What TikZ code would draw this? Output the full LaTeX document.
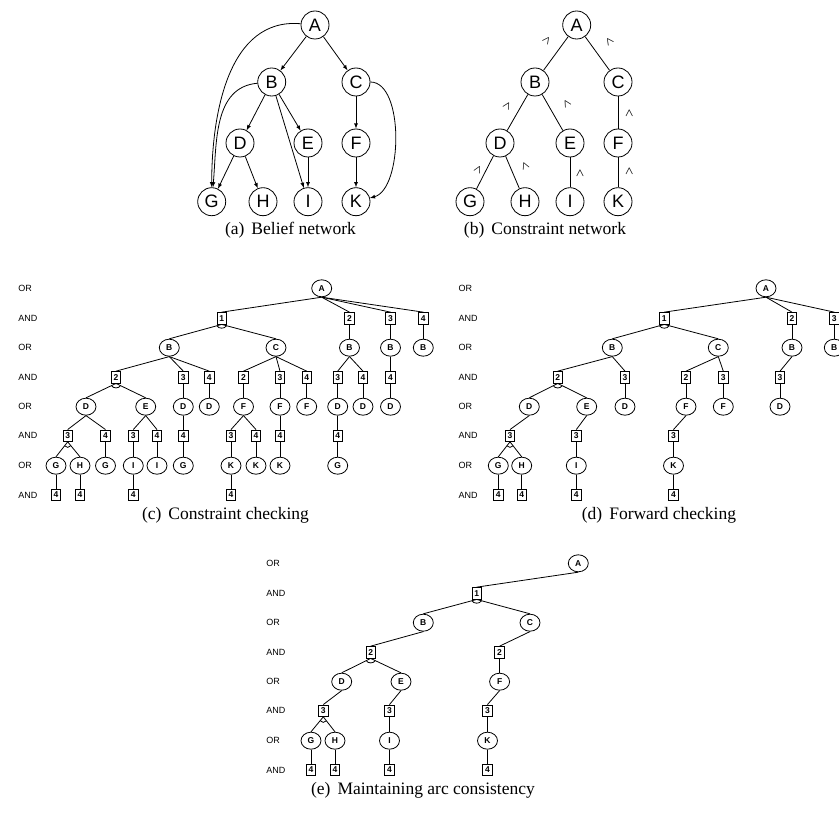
\documentclass[tikz,border=0pt]{standalone}
\usepackage{fontspec}
\setmainfont{Liberation Serif}
\setsansfont{Liberation Sans}
\usetikzlibrary{arrows,shapes}
\usetikzlibrary{calc}
\tikzset{
	>=latex,
	bnode/.style={draw, circle, minimum size=28pt, inner sep=0pt,
		font=\sffamily\fontsize{18}{18}\selectfont},
	ornode/.style={draw, ellipse, minimum width=20pt, minimum height=17pt, inner sep=0pt,
		font=\sffamily\bfseries\fontsize{8.5}{8.5}\selectfont},
	andnode/.style={draw, rectangle, minimum width=9.5pt, minimum height=11.5pt, inner sep=0pt,
		font=\sffamily\bfseries\fontsize{8.5}{8.5}\selectfont},
	levellabel/.style={anchor=west, inner sep=0pt, font=\sffamily\fontsize{9}{9}\selectfont},
	caret/.style={inner sep=0pt, font=\fontsize{11}{11}\selectfont\boldmath},
	subcaption/.style={inner sep=0pt, font=\fontsize{17.5}{17.5}\selectfont},
}
% small arc below an AND node, joining its two outgoing edges
\newcommand{\andarc}[3]{\draw ($(#1.south)!5pt!(#2.north)$) to[bend right=60] ($(#1.south)!5pt!(#3.north)$);}

\begin{document}
\begin{tikzpicture}[x=1pt, y=-1pt, line width=0.8pt]
\useasboundingbox (0,0) rectangle (839,813);

% (a) belief network
\node[bnode] (aA) at (315,25) {A};
\node[bnode] (aB) at (271.7,82) {B};
\node[bnode] (aC) at (356,82) {C};
\node[bnode] (aD) at (240,143) {D};
\node[bnode] (aE) at (308,143) {E};
\node[bnode] (aF) at (356,143) {F};
\node[bnode] (aG) at (211.7,201.7) {G};
\node[bnode] (aH) at (263,201.7) {H};
\node[bnode] (aI) at (308,201.7) {I};
\node[bnode] (aK) at (356,201.7) {K};
\draw[->] (aA) -- (aB);
\draw[->] (aA) -- (aC);
\draw[->] (aA) to[out=175,in=90] (aG);
\draw[->] (aB) to[out=185,in=85] (aG);
\draw[->] (aB) -- (aD);
\draw[->] (aB) -- (aE);
\draw[->] (aB) -- (aI);
\draw[->] (aC) -- (aF);
\draw[->] (aC) to[out=0,in=15,looseness=0.75] (aK);
\draw[->] (aD) -- (aG);
\draw[->] (aD) -- (aH);
\draw[->] (aE) -- (aI);
\draw[->] (aF) -- (aK);
\node[subcaption] (capa) at (290.5,230) {(a)\hspace{.4em}Belief network};

% (b) constraint network
\node[bnode] (bA) at (576.7,25) {A};
\node[bnode] (bB) at (535,82) {B};
\node[bnode] (bC) at (618,82) {C};
\node[bnode] (bD) at (500,143) {D};
\node[bnode] (bE) at (570,143) {E};
\node[bnode] (bF) at (618,143) {F};
\node[bnode] (bG) at (470,201.7) {G};
\node[bnode] (bH) at (525,201.7) {H};
\node[bnode] (bI) at (570,201.7) {I};
\node[bnode] (bK) at (618,201.7) {K};
\draw (bA) -- (bB);
\draw (bA) -- (bC);
\draw (bB) -- (bD);
\draw (bB) -- (bE);
\draw (bC) -- (bF);
\draw (bD) -- (bG);
\draw (bD) -- (bH);
\draw (bE) -- (bI);
\draw (bF) -- (bK);
\node[caret, rotate=-36] (bAB) at (546.7,40.7) {$\wedge$};
\node[caret, rotate=35] (bAC) at (609.3,41.7) {$\wedge$};
\node[caret, rotate=-30] (bBD) at (507.3,106) {$\wedge$};
\node[caret, rotate=30] (bBE) at (566.7,104) {$\wedge$};
\node[caret] (bCF) at (629.3,113.3) {$\wedge$};
\node[caret, rotate=-27] (bDG) at (478.3,170) {$\wedge$};
\node[caret, rotate=23] (bDH) at (525,165.7) {$\wedge$};
\node[caret] (bEI) at (580,173.3) {$\wedge$};
\node[caret] (bFK) at (629.3,171.7) {$\wedge$};
\node[subcaption] (capb) at (545,230) {(b)\hspace{.4em}Constraint network};

% (c) constraint checking
\node[levellabel] (cl0) at (18,288.3) {OR};
\node[levellabel] (cl1) at (18,318.3) {AND};
\node[levellabel] (cl2) at (18,347.7) {OR};
\node[levellabel] (cl3) at (18,377.3) {AND};
\node[levellabel] (cl4) at (18,406.7) {OR};
\node[levellabel] (cl5) at (18,435.7) {AND};
\node[levellabel] (cl6) at (18,465.7) {OR};
\node[levellabel] (cl7) at (18,495) {AND};

\node[ornode] (cA) at (321.7,288.3) {A};
\node[andnode] (c1) at (221.7,318.3) {1};
\node[andnode] (c2) at (349.5,318.3) {2};
\node[andnode] (c3) at (390.5,318.3) {3};
\node[andnode] (c4) at (423.3,318.3) {4};
\node[ornode] (c1B) at (169.3,347.7) {B};
\node[ornode] (c1C) at (276,347.7) {C};
\node[ornode] (c2B) at (349.5,347.7) {B};
\node[ornode] (c3B) at (390.5,347.7) {B};
\node[ornode] (c4B) at (423.3,347.7) {B};
\node[andnode] (c1B2) at (116,377.3) {2};
\node[andnode] (c1B3) at (183.3,377.3) {3};
\node[andnode] (c1B4) at (209.3,377.3) {4};
\node[andnode] (c1C2) at (243.5,377.3) {2};
\node[andnode] (c1C3) at (280,377.3) {3};
\node[andnode] (c1C4) at (306.7,377.3) {4};
\node[andnode] (c2B3) at (337.7,377.3) {3};
\node[andnode] (c2B4) at (363,377.3) {4};
\node[andnode] (c3B4) at (390.5,377.3) {4};
\node[ornode] (c1B2D) at (86,406.7) {D};
\node[ornode] (c1B2E) at (145.7,406.7) {E};
\node[ornode] (c1B3D) at (183.3,406.7) {D};
\node[ornode] (c1B4D) at (209.3,406.7) {D};
\node[ornode] (c1C2F) at (243.5,406.7) {F};
\node[ornode] (c1C3F) at (280,406.7) {F};
\node[ornode] (c1C4F) at (306.7,406.7) {F};
\node[ornode] (c2B3D) at (337.7,406.7) {D};
\node[ornode] (c2B4D) at (363,406.7) {D};
\node[ornode] (c3B4D) at (390.5,406.7) {D};
\node[andnode] (c1B2D3) at (67.7,435.7) {3};
\node[andnode] (c1B2D4) at (105.5,435.7) {4};
\node[andnode] (c1B2E3) at (133.3,435.7) {3};
\node[andnode] (c1B2E4) at (157,435.7) {4};
\node[andnode] (c1B3D4) at (183.3,435.7) {4};
\node[andnode] (c1C2F3) at (231,435.7) {3};
\node[andnode] (c1C2F4) at (256,435.7) {4};
\node[andnode] (c1C3F4) at (280,435.7) {4};
\node[andnode] (c2B3D4) at (337.7,435.7) {4};
\node[ornode] (c1B2D3G) at (56,465.7) {G};
\node[ornode] (c1B2D3H) at (80,465.7) {H};
\node[ornode] (c1B2D4G) at (105.5,465.7) {G};
\node[ornode] (c1B2E3I) at (133.3,465.7) {I};
\node[ornode] (c1B2E4I) at (157,465.7) {I};
\node[ornode] (c1B3D4G) at (183.3,465.7) {G};
\node[ornode] (c1C2F3K) at (231,465.7) {K};
\node[ornode] (c1C2F4K) at (256,465.7) {K};
\node[ornode] (c1C3F4K) at (280,465.7) {K};
\node[ornode] (c2B3D4G) at (337.7,465.7) {G};
\node[andnode] (c1B2D3G4) at (56,495) {4};
\node[andnode] (c1B2D3H4) at (80,495) {4};
\node[andnode] (c1B2E3I4) at (133.3,495) {4};
\node[andnode] (c1C2F3K4) at (231,495) {4};

\draw (cA.south) edge (c1.north) edge (c2.north) edge (c3.north) edge (c4.north);
\draw (c1.south) edge (c1B.north) edge (c1C.north);
\draw (c2.south) edge (c2B.north);
\draw (c3.south) edge (c3B.north);
\draw (c4.south) edge (c4B.north);
\draw (c1B.south) edge (c1B2.north) edge (c1B3.north) edge (c1B4.north);
\draw (c1C.south) edge (c1C2.north) edge (c1C3.north) edge (c1C4.north);
\draw (c2B.south) edge (c2B3.north) edge (c2B4.north);
\draw (c3B.south) edge (c3B4.north);
\draw (c1B2.south) edge (c1B2D.north) edge (c1B2E.north);
\draw (c1B3.south) edge (c1B3D.north);
\draw (c1B4.south) edge (c1B4D.north);
\draw (c1C2.south) edge (c1C2F.north);
\draw (c1C3.south) edge (c1C3F.north);
\draw (c1C4.south) edge (c1C4F.north);
\draw (c2B3.south) edge (c2B3D.north);
\draw (c2B4.south) edge (c2B4D.north);
\draw (c3B4.south) edge (c3B4D.north);
\draw (c1B2D.south) edge (c1B2D3.north) edge (c1B2D4.north);
\draw (c1B2E.south) edge (c1B2E3.north) edge (c1B2E4.north);
\draw (c1B3D.south) edge (c1B3D4.north);
\draw (c1C2F.south) edge (c1C2F3.north) edge (c1C2F4.north);
\draw (c1C3F.south) edge (c1C3F4.north);
\draw (c2B3D.south) edge (c2B3D4.north);
\draw (c1B2D3.south) edge (c1B2D3G.north) edge (c1B2D3H.north);
\draw (c1B2D4.south) edge (c1B2D4G.north);
\draw (c1B2E3.south) edge (c1B2E3I.north);
\draw (c1B2E4.south) edge (c1B2E4I.north);
\draw (c1B3D4.south) edge (c1B3D4G.north);
\draw (c1C2F3.south) edge (c1C2F3K.north);
\draw (c1C2F4.south) edge (c1C2F4K.north);
\draw (c1C3F4.south) edge (c1C3F4K.north);
\draw (c2B3D4.south) edge (c2B3D4G.north);
\draw (c1B2D3G.south) edge (c1B2D3G4.north);
\draw (c1B2D3H.south) edge (c1B2D3H4.north);
\draw (c1B2E3I.south) edge (c1B2E3I4.north);
\draw (c1C2F3K.south) edge (c1C2F3K4.north);
\andarc{c1}{c1B}{c1C}
\andarc{c1B2}{c1B2D}{c1B2E}
\andarc{c1B2D3}{c1B2D3G}{c1B2D3H}
\node[subcaption] (capc) at (225.5,515) {(c)\hspace{.4em}Constraint checking};

% (d) forward checking
\node[levellabel] (dl0) at (458.3,288.3) {OR};
\node[levellabel] (dl1) at (458.3,318.3) {AND};
\node[levellabel] (dl2) at (458.3,347.7) {OR};
\node[levellabel] (dl3) at (458.3,377.3) {AND};
\node[levellabel] (dl4) at (458.3,406.7) {OR};
\node[levellabel] (dl5) at (458.3,435.7) {AND};
\node[levellabel] (dl6) at (458.3,465.7) {OR};
\node[levellabel] (dl7) at (458.3,495) {AND};

\node[ornode] (dA) at (766,288.3) {A};
\node[andnode] (d1) at (664.3,318.3) {1};
\node[andnode] (d2) at (792,318.3) {2};
\node[andnode] (d3) at (834.3,318.3) {3};
\node[ornode] (d1B) at (612.3,347.7) {B};
\node[ornode] (d1C) at (718.3,347.7) {C};
\node[ornode] (d2B) at (792,347.7) {B};
\node[ornode] (d3B) at (834.3,347.7) {B};
\node[andnode] (d1B2) at (557.7,377.3) {2};
\node[andnode] (d1B3) at (625,377.3) {3};
\node[andnode] (d1C2) at (686,377.3) {2};
\node[andnode] (d1C3) at (723.3,377.3) {3};
\node[andnode] (d2B3) at (780,377.3) {3};
\node[ornode] (d1B2D) at (529.3,406.7) {D};
\node[ornode] (d1B2E) at (586.7,406.7) {E};
\node[ornode] (d1B3D) at (625,406.7) {D};
\node[ornode] (d1C2F) at (686,406.7) {F};
\node[ornode] (d1C3F) at (723.3,406.7) {F};
\node[ornode] (d2B3D) at (780,406.7) {D};
\node[andnode] (d1B2D3) at (510,435.7) {3};
\node[andnode] (d1B2E3) at (576.3,435.7) {3};
\node[andnode] (d1C2F3) at (673.5,435.7) {3};
\node[ornode] (d1B2D3G) at (498.3,465.7) {G};
\node[ornode] (d1B2D3H) at (521.7,465.7) {H};
\node[ornode] (d1B2E3I) at (576.3,465.7) {I};
\node[ornode] (d1C2F3K) at (673.5,465.7) {K};
\node[andnode] (d1B2D3G4) at (498.3,495) {4};
\node[andnode] (d1B2D3H4) at (521.7,495) {4};
\node[andnode] (d1B2E3I4) at (576.3,495) {4};
\node[andnode] (d1C2F3K4) at (673.5,495) {4};

\draw (dA.south) edge (d1.north) edge (d2.north) edge (d3.north);
\draw (d1.south) edge (d1B.north) edge (d1C.north);
\draw (d2.south) edge (d2B.north);
\draw (d3.south) edge (d3B.north);
\draw (d1B.south) edge (d1B2.north) edge (d1B3.north);
\draw (d1C.south) edge (d1C2.north) edge (d1C3.north);
\draw (d2B.south) edge (d2B3.north);
\draw (d1B2.south) edge (d1B2D.north) edge (d1B2E.north);
\draw (d1B3.south) edge (d1B3D.north);
\draw (d1C2.south) edge (d1C2F.north);
\draw (d1C3.south) edge (d1C3F.north);
\draw (d2B3.south) edge (d2B3D.north);
\draw (d1B2D.south) edge (d1B2D3.north);
\draw (d1B2E.south) edge (d1B2E3.north);
\draw (d1C2F.south) edge (d1C2F3.north);
\draw (d1B2D3.south) edge (d1B2D3G.north) edge (d1B2D3H.north);
\draw (d1B2E3.south) edge (d1B2E3I.north);
\draw (d1C2F3.south) edge (d1C2F3K.north);
\draw (d1B2D3G.south) edge (d1B2D3G4.north);
\draw (d1B2D3H.south) edge (d1B2D3H4.north);
\draw (d1B2E3I.south) edge (d1B2E3I4.north);
\draw (d1C2F3K.south) edge (d1C2F3K4.north);
\andarc{d1}{d1B}{d1C}
\andarc{d1B2}{d1B2D}{d1B2E}
\andarc{d1B2D3}{d1B2D3G}{d1B2D3H}
\node[subcaption] (capd) at (659,515) {(d)\hspace{.4em}Forward checking};

% (e) maintaining arc consistency
\node[levellabel] (el0) at (266,563.3) {OR};
\node[levellabel] (el1) at (266,593.3) {AND};
\node[levellabel] (el2) at (266,622.7) {OR};
\node[levellabel] (el3) at (266,652.3) {AND};
\node[levellabel] (el4) at (266,681.7) {OR};
\node[levellabel] (el5) at (266,710.7) {AND};
\node[levellabel] (el6) at (266,740.7) {OR};
\node[levellabel] (el7) at (266,770) {AND};

\node[ornode] (eA) at (578.3,563.3) {A};
\node[andnode] (e1) at (476.7,593.3) {1};
\node[ornode] (e1B) at (423.3,622.7) {B};
\node[ornode] (e1C) at (530,622.7) {C};
\node[andnode] (e1B2) at (370.7,652.3) {2};
\node[andnode] (e1C2) at (499.6,652.3) {2};
\node[ornode] (e1B2D) at (341.7,681.7) {D};
\node[ornode] (e1B2E) at (401,681.7) {E};
\node[ornode] (e1C2F) at (499.6,681.7) {F};
\node[andnode] (e1B2D3) at (323.3,710.7) {3};
\node[andnode] (e1B2E3) at (389.5,710.7) {3};
\node[andnode] (e1C2F3) at (487.5,710.7) {3};
\node[ornode] (e1B2D3G) at (311,740.7) {G};
\node[ornode] (e1B2D3H) at (335,740.7) {H};
\node[ornode] (e1B2E3I) at (389.5,740.7) {I};
\node[ornode] (e1C2F3K) at (487.5,740.7) {K};
\node[andnode] (e1B2D3G4) at (311,770) {4};
\node[andnode] (e1B2D3H4) at (335,770) {4};
\node[andnode] (e1B2E3I4) at (389.5,770) {4};
\node[andnode] (e1C2F3K4) at (487.5,770) {4};

\draw (eA.south) edge (e1.north);
\draw (e1.south) edge (e1B.north) edge (e1C.north);
\draw (e1B.south) edge (e1B2.north);
\draw (e1C.south) edge (e1C2.north);
\draw (e1B2.south) edge (e1B2D.north) edge (e1B2E.north);
\draw (e1C2.south) edge (e1C2F.north);
\draw (e1B2D.south) edge (e1B2D3.north);
\draw (e1B2E.south) edge (e1B2E3.north);
\draw (e1C2F.south) edge (e1C2F3.north);
\draw (e1B2D3.south) edge (e1B2D3G.north) edge (e1B2D3H.north);
\draw (e1B2E3.south) edge (e1B2E3I.north);
\draw (e1C2F3.south) edge (e1C2F3K.north);
\draw (e1B2D3G.south) edge (e1B2D3G4.north);
\draw (e1B2D3H.south) edge (e1B2D3H4.north);
\draw (e1B2E3I.south) edge (e1B2E3I4.north);
\draw (e1C2F3K.south) edge (e1C2F3K4.north);
\andarc{e1}{e1B}{e1C}
\andarc{e1B2}{e1B2D}{e1B2E}
\andarc{e1B2D3}{e1B2D3G}{e1B2D3H}
\node[subcaption] (cape) at (423,790) {(e)\hspace{.4em}Maintaining arc consistency};
\end{tikzpicture}
\end{document}
